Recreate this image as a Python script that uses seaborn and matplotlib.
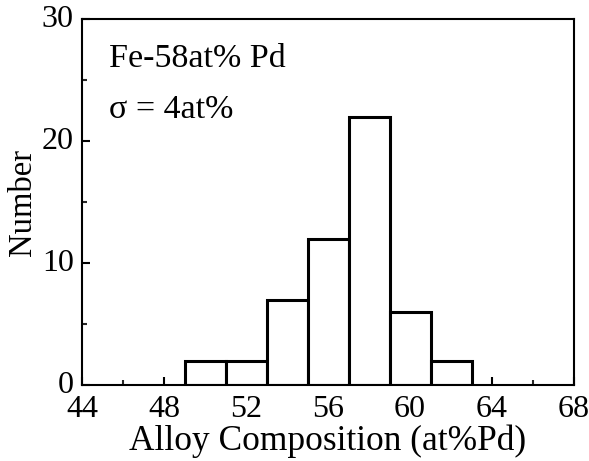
import matplotlib
matplotlib.use("Agg")
import matplotlib.pyplot as plt
import matplotlib.transforms as mtransforms
import seaborn as sns
import numpy as np
import pandas as pd
from matplotlib.ticker import MultipleLocator

bin_edges = [49, 51, 53, 55, 57, 59, 61, 63]
bin_centers = [50, 52, 54, 56, 58, 60, 62]
counts = [2, 2, 7, 12, 22, 6, 2]
x_ticks = [44, 48, 52, 56, 60, 64, 68]
y_ticks = [0, 10, 20, 30]

sns.set_theme(style="white")
plt.rcParams['font.family'] = ['Liberation Serif', 'DejaVu Serif']

df = pd.DataFrame({"comp": bin_centers, "n": counts})

fig = plt.figure(figsize=(5.89, 4.61), dpi=100)
ax = fig.add_axes([82/589, 1 - 385/461, (574-82)/589, (385-19)/461])

sns.histplot(data=df, x="comp", weights="n", bins=bin_edges, ax=ax,
             color="white", edgecolor="black", linewidth=2.2, alpha=1)

ax.set_xlim(44, 68)
ax.set_ylim(0, 30)
ax.set_xticks(x_ticks)
ax.set_yticks(y_ticks)
ax.xaxis.set_minor_locator(MultipleLocator(2))
ax.yaxis.set_minor_locator(MultipleLocator(5))
ax.tick_params(axis='both', which='major', direction='in', length=6, width=1.5,
               labelsize=23, colors='black', bottom=True, left=True, top=False, right=False)
ax.tick_params(axis='x', which='major', pad=7)
ax.tick_params(axis='y', which='major', pad=6)
ax.tick_params(axis='both', which='minor', direction='in', length=3.5, width=1.5,
               bottom=True, left=True, top=False, right=False)
for s in ax.spines.values():
    s.set_linewidth(1.5)
    s.set_color('black')

# reference y tick labels sit a touch above their ticks
offset = mtransforms.ScaledTranslation(0, 3/100, fig.dpi_scale_trans)
for tick in ax.yaxis.get_major_ticks():
    tick.label1.set_transform(tick.label1.get_transform() + offset)

ax.set_xlabel("Alloy Composition (at%Pd)", fontsize=25.5, color='black', labelpad=0.5)
ax.set_ylabel("Number", fontsize=23.5, color='black', labelpad=3)

ax.text(0.055, 0.869, "Fe-58at% Pd", transform=ax.transAxes, fontsize=24.5,
        color='black', va='baseline')
ax.text(0.055, 0.73, "σ = 4at%", transform=ax.transAxes, fontsize=24.5,
        color='black', va='baseline')

fig.savefig("out.png", dpi=100, facecolor='white')
